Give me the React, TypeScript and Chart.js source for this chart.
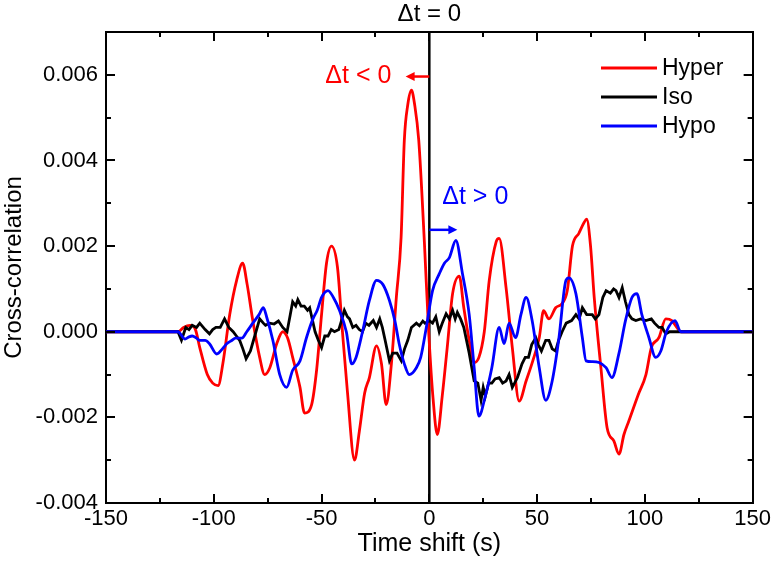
import React, { useEffect, useRef } from "react";
import { Chart, registerables } from "chart.js";

Chart.register(...registerables);

const FONT = "'Liberation Sans', Arial, Helvetica, sans-serif";

// [time shift (s), cross-correlation]
const hyper: [number, number][] = [
  [-150, 0], [-116.6, 0], [-114, 0.0001], [-111, 0.00015], [-108.5, 0.00005], [-106.5, -0.00037],
  [-103, -0.001], [-100.5, -0.0012], [-98, -0.00126], [-95.8, -0.00075], [-92.6, 0.0004],
  [-89.4, 0.0012], [-86.6, 0.0016], [-84.5, 0.0011], [-81.9, 0.00026], [-78.7, -0.0006],
  [-76.4, -0.001], [-74, -0.00084], [-70.8, -0.00028], [-68, 0], [-65.7, -0.00015],
  [-63.4, -0.0006], [-60, -0.0013], [-57.9, -0.0019], [-54.6, -0.0017], [-52.3, -0.0009],
  [-50, 0.0004], [-47.7, 0.0016], [-45.4, 0.002], [-42.6, 0.0015], [-40.3, 0], [-38, -0.0014],
  [-34.7, -0.003], [-32.4, -0.0023], [-30, -0.00143], [-27.8, -0.00107], [-24.5, -0.00033],
  [-22.2, -0.00075], [-20, -0.0017], [-17.6, -0.00075], [-15.3, 0.0008], [-13.1, 0.0022],
  [-11.6, 0.00447], [-10, 0.0053], [-8.3, 0.00564], [-6.8, 0.0053], [-4.9, 0.00447],
  [-2.3, 0.0021], [-0.3, 0], [1.8, -0.0016], [3.7, -0.0024], [6, -0.0015], [8.3, -0.00037],
  [10.8, 0.00089], [13.9, 0.0013], [16, 0.00056], [18.5, -0.0002], [20.8, -0.00072],
  [23, -0.0006], [25.5, 0], [27.8, 0.0012], [31, 0.0021], [32.4, 0.00218], [35.6, 0.00103],
  [38.5, -0.00037], [41.7, -0.00162], [44.9, -0.00115], [48, -0.00068], [51, -0.00014],
  [53, 0.00049], [55.5, 0.0003], [58.6, 0.00056], [61.6, 0.00066], [64, 0.00096],
  [66.4, 0.002], [69.4, 0.0023], [71.8, 0.00255], [73, 0.00263], [74.8, 0.002], [76.5, 0.0008],
  [79.6, -0.00084], [82.5, -0.00225], [85.6, -0.00255], [88, -0.00286], [90.3, -0.0024],
  [92.6, -0.00208], [97, -0.00146], [100.5, -0.001], [103, -0.00037], [106.5, -0.00014],
  [109.7, 0.0003], [112.5, 0.00026], [114.8, 0.0001], [116.6, 0], [150, 0],
];

const iso: [number, number][] = [
  [-150, 0], [-116.6, 0], [-115, -0.0002], [-113, 0.0001], [-111.5, 0.00005], [-110, 0.00015],
  [-108, 0.0001], [-106.5, 0.0002], [-104, 0.00005], [-102, -0.00005], [-100.5, 0.00005],
  [-99, 0.0001], [-97, 0.0001], [-95, 0.0003], [-93, 0.0001], [-91, 0], [-89.5, -0.0001],
  [-88, -0.0002], [-86.5, -0.0004], [-85, -0.00063], [-83, -0.00045], [-81, -0.0001],
  [-78.7, 0.0003], [-77, 0.0002], [-76, 0.00015], [-74, 0.0002], [-72, 0.00018], [-70, 0.00025],
  [-68, 0.0001], [-66, 0], [-64.5, 0.0004], [-63.4, 0.0007], [-62, 0.0006], [-61, 0.00075],
  [-59.5, 0.0006], [-58, 0.0006], [-56.5, 0.0005], [-55.5, 0.00056], [-53, 0], [-51.5, -0.0002],
  [-50, -0.00037], [-48.5, -0.0001], [-47, -0.0001], [-45.5, 0.00005], [-44, 0], [-42, 0.00005],
  [-40.5, 0.0003], [-39.4, 0.0005], [-38, 0.00035], [-37, 0.0003], [-35.5, 0.0001],
  [-34, 0.00015], [-32.5, 0.00005], [-31, 0], [-29.5, 0.0002], [-28, 0.00015], [-26, 0.00026],
  [-24.5, 0.0001], [-23, 0.0003], [-21.8, 0.0001], [-20.5, -0.0002], [-18.5, -0.00068],
  [-17, -0.0005], [-15, -0.0005], [-13, -0.00068], [-11.5, -0.0004], [-10, -0.0002],
  [-8.3, 0.0001], [-6, 0.0002], [-4.6, 0.00014], [-3, 0.00025], [-2, 0.0002], [0, 0.00026],
  [1.5, 0.0002], [3, 0.00035], [4.6, 0], [6, 0.0002], [7.8, 0.00042], [9.3, 0.0003],
  [10.8, 0.0005], [12, 0.0003], [13, 0.00045], [14.5, 0.0003], [16, 0.0001], [18.5, -0.0005],
  [20.8, -0.00115], [22.5, -0.0012], [24, -0.0016], [25, -0.0013], [26, -0.0015], [27.5, -0.0012],
  [29, -0.0012], [30.5, -0.0011], [32.4, -0.00107], [34, -0.0012], [35.6, -0.00115],
  [37, -0.001], [38.5, -0.0013], [40.9, -0.00107], [43, -0.00075], [44.5, -0.0006],
  [46, -0.0006], [47.5, -0.0003], [49.4, -0.00014], [50.5, -0.0003], [52, -0.00045],
  [54, -0.0002], [55.5, -0.0002], [57, -0.0004], [58.6, -0.00045], [60, -0.0002], [61.6, 0],
  [63.5, 0.0002], [66, 0.00026], [68, 0.0004], [69.5, 0.0003], [71, 0.00056], [73, 0.0004],
  [75.6, 0.0004], [77, 0.0003], [78.7, 0.0004], [80.5, 0.0008], [82, 0.00096], [84, 0.0009],
  [85.5, 0.001], [86.6, 0.00096], [88, 0.0008], [89.5, 0.00103], [91, 0.0007], [92.6, 0.0004],
  [94, 0.0003], [95.8, 0.00026], [98, 0.0003], [100.5, 0.00026], [103, 0.0003], [104.5, 0.0002],
  [106.5, 0.0001], [108, 0.0001], [109.7, -0.00005], [111.5, 0], [113, 0], [116.6, 0], [150, 0],
];

const hypo: [number, number][] = [
  [-150, 0], [-116.6, 0], [-113.4, -0.00017], [-111.5, -0.00012], [-110, -0.0001],
  [-108, -0.00015], [-106.5, -0.0002], [-104, -0.0002], [-102, -0.00028], [-98.6, -0.00052],
  [-96, -0.0004], [-94, -0.00028], [-91.5, -0.0002], [-90, -0.00015], [-87, -0.00015],
  [-84.7, 0], [-81.9, 0.0002], [-79, 0.0004], [-77, 0.00056], [-75.5, 0.00035], [-72.6, -0.0002],
  [-69.4, -0.001], [-66.2, -0.0013], [-63.4, -0.0009], [-60, -0.00068], [-57, -0.00014],
  [-54, 0.0003], [-52, 0.0005], [-50, 0.0008], [-47, 0.00096], [-44.5, 0.0008], [-41.7, 0.0005],
  [-38.5, 0], [-36, -0.00075], [-34, -0.0006], [-31, 0], [-27.8, 0.00073], [-24.5, 0.0012],
  [-21.5, 0.0011], [-18.5, 0.00073], [-16, 0.00026], [-14, -0.00028], [-11.6, -0.00075],
  [-9.3, -0.001], [-6, -0.00084], [-4, -0.0006], [-1.4, 0.0001], [1.5, 0.00096], [4.6, 0.00135],
  [7, 0.0016], [9.3, 0.00173], [12.3, 0.00213], [15.4, 0.00135], [18.5, 0.0004],
  [20.8, -0.00084], [23, -0.00197], [26, -0.0015], [29, -0.00084], [32.4, 0.0001],
  [34.7, -0.00028], [37, 0.0002], [40, -0.00014], [42.5, 0.0004], [44.9, 0.0008],
  [47.7, 0.00026], [51, -0.00084], [54, -0.0016], [57, -0.00115], [60, -0.0002], [63.4, 0.0012],
  [64.8, 0.00126], [68, 0.00089], [71, -0.00014], [72.7, -0.00068], [75.5, -0.0007],
  [78.7, -0.00072], [82, -0.00084], [84.7, -0.00107], [88, -0.0005], [91, 0.00026], [94, 0.0008],
  [96.3, 0.00089], [98.6, 0.0004], [101.9, -0.00014], [105, -0.0006], [107.4, -0.00045],
  [110, 0], [114, 0.00026], [116.6, 0], [150, 0],
];

const seriesNames = ["Hyper", "Iso", "Hypo"];
const seriesColors = ["rgb(255,0,0)", "rgb(0,0,0)", "rgb(0,0,255)"];

const xMajorTicks = [-150, -100, -50, 0, 50, 100, 150];
const xMinorTicks = [-125, -75, -25, 25, 75, 125];
const yMajorTicks = [-0.004, -0.002, 0, 0.002, 0.004, 0.006];
const yMinorTicks = [-0.003, -0.001, 0.001, 0.003, 0.005, 0.007];

const titleText = "\u0394t = 0";
const leftNote = "\u0394t < 0";
const rightNote = "\u0394t > 0";

function arrow(ctx: CanvasRenderingContext2D, x1: number, x2: number, y: number, color: string) {
  const dir = Math.sign(x2 - x1);
  ctx.strokeStyle = color;
  ctx.fillStyle = color;
  ctx.lineWidth = 2.5;
  ctx.beginPath();
  ctx.moveTo(x1, y);
  ctx.lineTo(x2 - dir * 6, y);
  ctx.stroke();
  ctx.beginPath();
  ctx.moveTo(x2, y);
  ctx.lineTo(x2 - dir * 9, y - 4.5);
  ctx.lineTo(x2 - dir * 9, y + 4.5);
  ctx.closePath();
  ctx.fill();
}

const decorPlugin = {
  id: "decor",
  beforeDatasetsDraw(chart: any) {
    const { ctx, chartArea: a, scales } = chart;
    const x0 = scales.x.getPixelForValue(0);
    ctx.save();
    ctx.strokeStyle = "#000";
    ctx.lineWidth = 2.5;
    ctx.beginPath();
    ctx.moveTo(x0, a.top);
    ctx.lineTo(x0, a.bottom);
    ctx.stroke();
    ctx.restore();
  },
  afterDraw(chart: any) {
    const { ctx, chartArea: a, scales } = chart;
    const xs = scales.x;
    const ys = scales.y;
    ctx.save();
    // inward tick marks on all four sides
    ctx.strokeStyle = "#000";
    ctx.lineWidth = 2;
    const tickX = (vals: number[], len: number) => {
      vals.forEach((v) => {
        const px = Math.round(xs.getPixelForValue(v));
        ctx.beginPath();
        ctx.moveTo(px, a.bottom);
        ctx.lineTo(px, a.bottom - len);
        ctx.moveTo(px, a.top);
        ctx.lineTo(px, a.top + len);
        ctx.stroke();
      });
    };
    const tickY = (vals: number[], len: number) => {
      vals.forEach((v) => {
        const py = Math.round(ys.getPixelForValue(v));
        ctx.beginPath();
        ctx.moveTo(a.left, py);
        ctx.lineTo(a.left + len, py);
        ctx.moveTo(a.right, py);
        ctx.lineTo(a.right - len, py);
        ctx.stroke();
      });
    };
    tickX(xMajorTicks, 9);
    tickX(xMinorTicks, 5);
    tickY(yMajorTicks, 9);
    tickY(yMinorTicks, 5);

    // title above the zero line
    ctx.fillStyle = "#000";
    ctx.font = `24px ${FONT}`;
    ctx.textAlign = "center";
    ctx.textBaseline = "middle";
    ctx.fillText(titleText, xs.getPixelForValue(0), 14);

    // annotations
    ctx.font = `25px ${FONT}`;
    ctx.fillStyle = seriesColors[0];
    ctx.textAlign = "right";
    ctx.fillText(leftNote, xs.getPixelForValue(-17.6), ys.getPixelForValue(0.00596));
    arrow(ctx, xs.getPixelForValue(0), xs.getPixelForValue(-11), ys.getPixelForValue(0.00596), seriesColors[0]);

    ctx.fillStyle = seriesColors[2];
    ctx.textAlign = "left";
    ctx.fillText(rightNote, xs.getPixelForValue(6), ys.getPixelForValue(0.00315));
    arrow(ctx, xs.getPixelForValue(0), xs.getPixelForValue(13), ys.getPixelForValue(0.00238), seriesColors[2]);

    // legend
    ctx.font = `23px ${FONT}`;
    ctx.textAlign = "left";
    const rowY = [68, 97, 126];
    seriesNames.forEach((name, i) => {
      ctx.strokeStyle = seriesColors[i];
      ctx.lineWidth = 2.8;
      ctx.beginPath();
      ctx.moveTo(601, rowY[i]);
      ctx.lineTo(657, rowY[i]);
      ctx.stroke();
      ctx.fillStyle = "#000";
      ctx.fillText(name, 662, rowY[i] + 1);
    });
    ctx.restore();
  },
};

export default function App() {
  const ref = useRef<HTMLCanvasElement | null>(null);
  useEffect(() => {
    if (!ref.current) return;
    const all = [hyper, iso, hypo];
    const chart = new Chart(ref.current, {
      type: "line",
      data: {
        datasets: all.map((s, i) => ({
          label: seriesNames[i],
          data: s.map(([x, y]) => ({ x, y })),
          borderColor: seriesColors[i],
          backgroundColor: seriesColors[i],
          borderWidth: 2.8,
          pointRadius: 0,
          tension: i === 1 ? 0 : 0.4,
          cubicInterpolationMode: i === 1 ? "default" : "monotone",
          fill: false,
          order: 3 - i,
        })),
      },
      options: {
        responsive: false,
        animation: false,
        events: [],
        layout: { padding: { left: 0, right: 20, top: 32, bottom: 0 } },
        plugins: {
          legend: { display: false },
          tooltip: { enabled: false },
          title: { display: false },
        },
        scales: {
          x: {
            type: "linear",
            position: "bottom",
            min: -150,
            max: 150,
            ticks: {
              stepSize: 50,
              color: "#000",
              font: { family: FONT, size: 22 },
              padding: 3,
              maxRotation: 0,
              autoSkip: false,
              includeBounds: false,
            },
            grid: { display: false, drawTicks: false },
            border: { display: true, color: "#000", width: 2 },
            title: {
              display: true,
              text: "Time shift (s)",
              color: "#000",
              font: { family: FONT, size: 25 },
              padding: { top: 0, bottom: 13 },
            },
            afterFit: (s: any) => {
              s.height = 69;
            },
          },
          x2: {
            type: "linear",
            position: "top",
            min: -150,
            max: 150,
            ticks: { display: false },
            grid: { display: false, drawTicks: false },
            border: { display: true, color: "#000", width: 2 },
            afterFit: (s: any) => {
              s.height = 0;
            },
          },
          y: {
            type: "linear",
            position: "left",
            min: -0.004,
            max: 0.007,
            ticks: {
              stepSize: 0.002,
              color: "#000",
              font: { family: FONT, size: 22 },
              padding: 8,
              includeBounds: false,
              callback: (v: any) => Number(v).toFixed(3),
            },
            grid: { display: false, drawTicks: false },
            border: { display: true, color: "#000", width: 2 },
            title: {
              display: true,
              text: "Cross-correlation",
              color: "#000",
              font: { family: FONT, size: 24 },
              padding: { top: 0, bottom: 0 },
            },
            afterFit: (s: any) => {
              s.width = 106;
            },
          },
          y2: {
            type: "linear",
            position: "right",
            min: -0.004,
            max: 0.007,
            ticks: { display: false },
            grid: { display: false, drawTicks: false },
            border: { display: true, color: "#000", width: 2 },
            afterFit: (s: any) => {
              s.width = 0;
            },
          },
        },
      } as any,
      plugins: [decorPlugin],
    });
    return () => chart.destroy();
  }, []);
  return (
    <div style={{ position: "fixed", left: 0, top: 0, width: 774, height: 572, background: "#fff" }}>
      <canvas ref={ref} width={774} height={572} style={{ display: "block", width: 774, height: 572 }} />
    </div>
  );
}
